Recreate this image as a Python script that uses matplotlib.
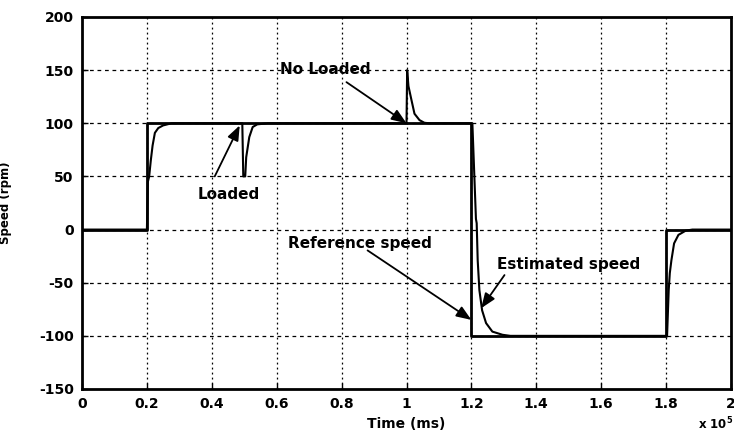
import numpy as np
import matplotlib.pyplot as plt

# time axis in units of 1e5 ms
ref_t = [0, 0.2, 0.2, 1.2, 1.2, 1.8, 1.8, 2.0]
ref_speed = [0, 0, 100, 100, -100, -100, 0, 0]

est_t = [0, 0.2, 0.203, 0.207, 0.212, 0.2175, 0.2246, 0.235, 0.25, 0.276, 0.3,
         0.494, 0.497, 0.503, 0.506, 0.511, 0.5155, 0.526, 0.54, 0.573, 0.6,
         1.0, 1.002, 1.006, 1.0145, 1.0246, 1.04, 1.055, 1.07,
         1.2, 1.203, 1.214, 1.2163, 1.2194, 1.2246, 1.233, 1.2452, 1.2646, 1.296, 1.32,
         1.8, 1.803, 1.808, 1.8114, 1.8163, 1.8246, 1.838, 1.8606, 1.881, 2.0]
est_speed = [0, 0, 45, 50, 65, 79, 91, 95.5, 98, 100, 100,
             100, 50, 50, 68, 78, 87, 96.5, 99, 100, 100,
             100, 150, 135, 123, 109, 103, 100.5, 100,
             100, 100, 10, 6, -29, -57, -76, -88, -96, -99, -100,
             -100, -100, -57, -41, -29, -13, -5, -1, 0, 0]

xticks = [0, 0.2, 0.4, 0.6, 0.8, 1.0, 1.2, 1.4, 1.6, 1.8, 2.0]
xticklabels = ["0", "0.2", "0.4", "0.6", "0.8", "1", "1.2", "1.4", "1.6", "1.8", "2"]
yticks = [-150, -100, -50, 0, 50, 100, 150, 200]

plt.rcParams['font.family'] = ['DejaVu Sans']
plt.rcParams['font.weight'] = 'bold'
plt.rcParams['axes.unicode_minus'] = False

fig = plt.figure(figsize=(7.34, 4.32), dpi=100)
ax = fig.add_axes([82/734, 1 - 389/432, (731-82)/734, (389-17)/432])

ax.plot(est_t, est_speed, "k-", lw=1.5)
ax.plot(ref_t, ref_speed, "k-", lw=2)

ax.set_xlim(0, 2)
ax.set_ylim(-150, 200)
ax.set_xticks(xticks)
ax.set_xticklabels(xticklabels)
ax.set_yticks(yticks)
ax.tick_params(direction="in", length=4, width=1, labelsize=10, pad=6)
for lab in ax.get_xticklabels() + ax.get_yticklabels():
    lab.set_fontweight("bold")

for t in xticks[1:-1]:
    ax.axvline(t, color="k", lw=0.9, ls=(0, (1.5, 2.5)), zorder=0)
for v in yticks[1:-1]:
    ax.axhline(v, color="k", lw=0.9, ls=(0, (3, 3)), zorder=0)

for s in ax.spines.values():
    s.set_linewidth(2)

ax.set_xlabel("Time (ms)", fontsize=10, fontweight="bold", labelpad=4)
ax.set_ylabel("Speed (rpm)", fontsize=8.5, fontweight="bold")
ax.yaxis.set_label_coords(-0.108, 0.5)
fig.text(716/734, 1 - 424/432, r"x 10$^{\mathbf{5}}$", fontsize=8.5,
         fontweight="bold", ha="center", va="center")

arrow = dict(arrowstyle="-|>,head_length=0.9,head_width=0.35", color="k", lw=1.3,
             shrinkA=0, shrinkB=0)
fs = 11
ax.annotate("", xy=(1.0, 100), xytext=(0.815, 138.7), arrowprops=arrow)
ax.text(0.751, 151, "No Loaded", fontsize=fs, fontweight="bold", ha="center", va="center")
ax.annotate("", xy=(0.486, 98), xytext=(0.409, 50), arrowprops=arrow)
ax.text(0.452, 33.4, "Loaded", fontsize=fs, fontweight="bold", ha="center", va="center")
ax.annotate("", xy=(1.2, -85), xytext=(0.88, -19.6), arrowprops=arrow)
ax.text(0.855, -12.7, "Reference speed", fontsize=fs, fontweight="bold", ha="center", va="center")
ax.annotate("", xy=(1.23, -74), xytext=(1.302, -42.8), arrowprops=arrow)
ax.text(1.499, -32.5, "Estimated speed", fontsize=fs, fontweight="bold", ha="center", va="center")

plt.savefig("out.png", dpi=100)
